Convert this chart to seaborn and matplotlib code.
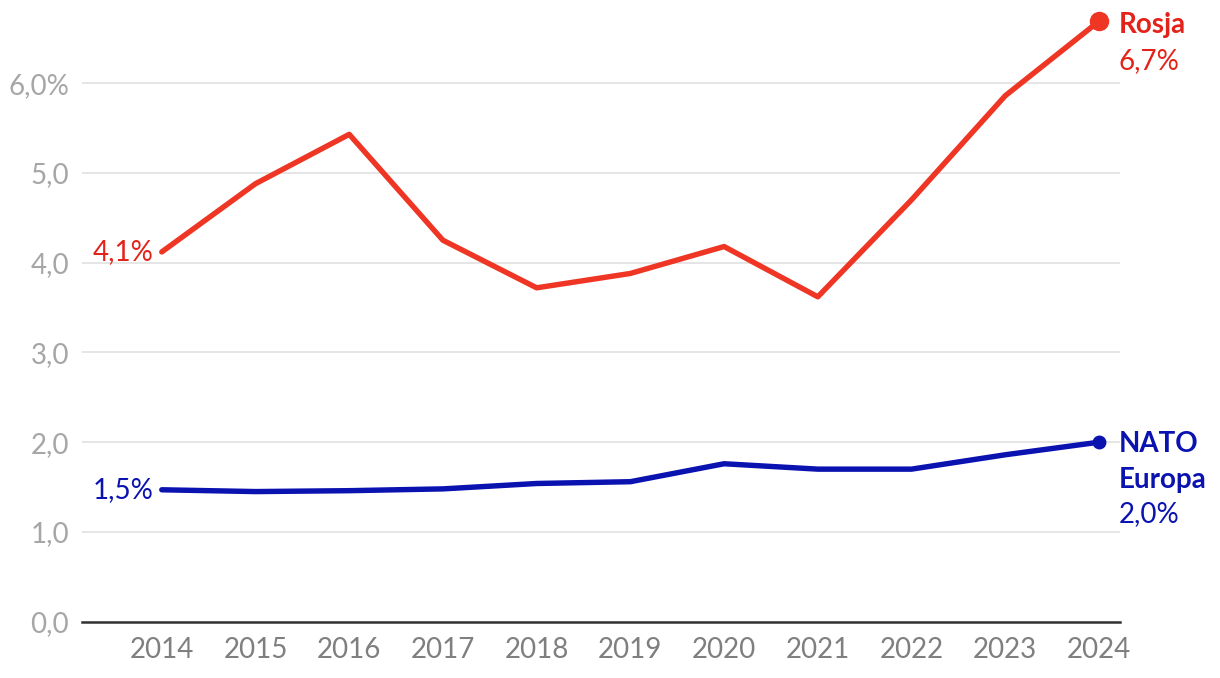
import matplotlib
matplotlib.use("Agg")
import matplotlib.pyplot as plt
import seaborn as sns
import pandas as pd

years = [2014, 2015, 2016, 2017, 2018, 2019, 2020, 2021, 2022, 2023, 2024]
rosja = [4.12, 4.88, 5.43, 4.25, 3.72, 3.88, 4.18, 3.62, 4.70, 5.86, 6.69]
nato_europa = [1.47, 1.45, 1.46, 1.48, 1.54, 1.56, 1.76, 1.70, 1.70, 1.86, 2.00]
series_names = ["Rosja", "NATO Europa"]
yticks = [0, 1, 2, 3, 4, 5, 6]
ytick_labels = ["0,0", "1,0", "2,0", "3,0", "4,0", "5,0", "6,0%"]

RED = "#ef3524"
RED_TXT = "#e3231a"
BLUE = "#0a12b0"
FS = 20

sns.set_theme(style="white")
plt.rcParams["font.family"] = ["Lato", "DejaVu Sans"]

df = pd.DataFrame({
    "year": years * 2,
    "value": rosja + nato_europa,
    "series": [series_names[0]] * len(years) + [series_names[1]] * len(years),
})

fig = plt.figure(figsize=(12.2, 6.78), dpi=100)
ax = fig.add_axes([0.067, 0.083, 0.851, 0.887])

sns.lineplot(data=df, x="year", y="value", hue="series",
             palette={series_names[0]: RED, series_names[1]: BLUE},
             linewidth=3.9, legend=False, ax=ax)
for line in ax.lines:
    line.set_solid_capstyle("round")
    line.set_clip_on(False)

ax.plot([years[-1]], [rosja[-1]], "o", color=RED, markersize=13, clip_on=False, zorder=5)
ax.plot([years[-1]], [nato_europa[-1]], "o", color=BLUE, markersize=9, clip_on=False, zorder=5)

ax.set_xlim(2013.146, 2024.224)
ax.set_ylim(0, 6.7)
ax.set_yticks(yticks)
ax.set_yticklabels(ytick_labels)
ax.set_xticks(years)
ax.set_xticklabels([str(y) for y in years])
ax.grid(axis="y", color="#e3e3e3", linewidth=1.3)
ax.grid(axis="x", visible=False)
for s in ["top", "right", "left"]:
    ax.spines[s].set_visible(False)
ax.spines["bottom"].set_color("#333333")
ax.spines["bottom"].set_linewidth(1.8)
ax.tick_params(axis="y", length=0, pad=9, labelsize=FS, labelcolor="#a6a6a6")
ax.tick_params(axis="x", length=0, pad=11, labelsize=FS, labelcolor="#7f7f7f")
ax.set_xlabel("")
ax.set_ylabel("")

# annotations
ax.annotate("4,1%", (years[0], rosja[0]), xytext=(-6, 0), textcoords="offset points",
            ha="right", va="center", color=RED_TXT, fontsize=FS)
ax.annotate("1,5%", (years[0], nato_europa[0]), xytext=(-6, 0), textcoords="offset points",
            ha="right", va="center", color=BLUE, fontsize=FS)
ax.annotate("Rosja", (years[-1], rosja[-1]), xytext=(14, -3), textcoords="offset points",
            ha="left", va="center", color=RED_TXT, fontsize=FS, fontweight="bold",
            annotation_clip=False)
ax.annotate("6,7%", (years[-1], rosja[-1]), xytext=(14, -29), textcoords="offset points",
            ha="left", va="center", color=RED_TXT, fontsize=FS, annotation_clip=False)
ax.annotate("NATO", (years[-1], nato_europa[-1]), xytext=(14, -1), textcoords="offset points",
            ha="left", va="center", color=BLUE, fontsize=FS, fontweight="bold",
            annotation_clip=False)
ax.annotate("Europa", (years[-1], nato_europa[-1]), xytext=(14, -27), textcoords="offset points",
            ha="left", va="center", color=BLUE, fontsize=FS, fontweight="bold",
            annotation_clip=False)
ax.annotate("2,0%", (years[-1], nato_europa[-1]), xytext=(14, -52), textcoords="offset points",
            ha="left", va="center", color=BLUE, fontsize=FS, annotation_clip=False)

fig.savefig("out.png", dpi=100)
